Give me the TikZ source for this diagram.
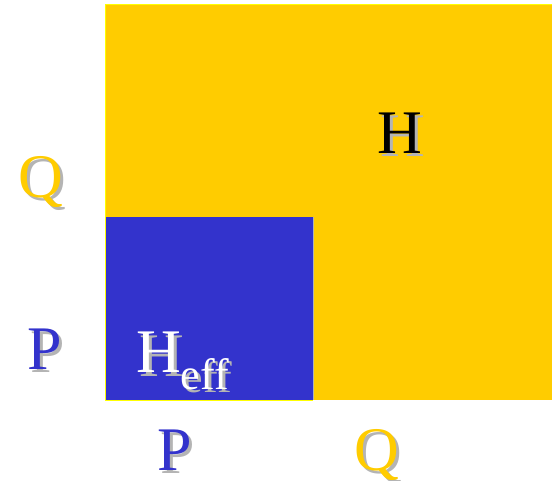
\documentclass[tikz,border=0pt]{standalone}
\usepackage{fontspec}
\setmainfont{Liberation Serif}
\usepackage{tikz}
\definecolor{blockyellow}{HTML}{FFCC00}
\definecolor{edgeyellow}{HTML}{FFFF00}
\definecolor{blockblue}{HTML}{3333CC}
\definecolor{shadegray}{HTML}{B4B4B4}
% letter with a grey drop shadow
\newcommand{\shadowed}[2]{\rlap{\hspace{3pt}\raisebox{-3pt}{\color{shadegray}#2}}{\color{#1}#2}}
\newcommand{\bigfont}{\fontsize{62}{62}\selectfont}
\tikzset{
  lbl/.style={inner sep=0pt,anchor=base,font=\bigfont},
}

\begin{document}
\begin{tikzpicture}[x=1pt,y=-1pt]
  \useasboundingbox (0,0) rectangle (552,481);
  \fill[blockyellow] (105,5) rectangle (552,400);
  \draw[edgeyellow,line width=1pt] (552,5) -- (105,5) -- (105,400);
  \fill[blockblue] (105,217) rectangle (313,400);
  \draw[shadegray,line width=0.8pt] (313,217) -- (313,400);
  \draw[edgeyellow,line width=1pt] (105,217) -- (105,400) -- (313,400);
  \node[lbl] (qleft) at (41,198) {\shadowed{blockyellow}{Q}};
  \node[lbl] (pleft) at (45,369) {\shadowed{blockblue}{P}};
  \node[lbl] (pbot) at (175,470) {\shadowed{blockblue}{P}};
  \node[lbl] (qbot) at (377,470) {\shadowed{blockyellow}{Q}};
  \node[lbl] (h) at (400,154) {\shadowed{black}{H}};
  \node[lbl,anchor=base west] (heff) at (136,373)
    {\shadowed{white}{H}\raisebox{-17pt}{\fontsize{44}{44}\selectfont\shadowed{white}{eff}}};
\end{tikzpicture}
\end{document}
